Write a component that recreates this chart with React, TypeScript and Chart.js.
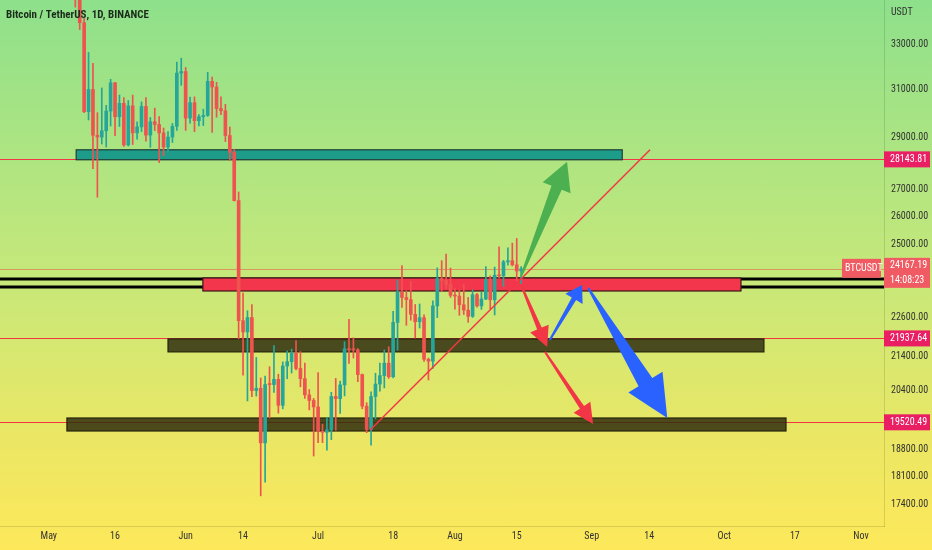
import React, { useEffect, useRef } from 'react';
import Chart from 'chart.js/auto';

// ---------- DATA ----------
const DATES_MAY = ['2022-05-07','2022-05-08','2022-05-09','2022-05-10','2022-05-11','2022-05-12','2022-05-13','2022-05-14','2022-05-15','2022-05-16','2022-05-17','2022-05-18','2022-05-19','2022-05-20','2022-05-21','2022-05-22','2022-05-23','2022-05-24','2022-05-25','2022-05-26','2022-05-27','2022-05-28','2022-05-29','2022-05-30','2022-05-31'];
const DATES_JUN = ['2022-06-01','2022-06-02','2022-06-03','2022-06-04','2022-06-05','2022-06-06','2022-06-07','2022-06-08','2022-06-09','2022-06-10','2022-06-11','2022-06-12','2022-06-13','2022-06-14','2022-06-15','2022-06-16','2022-06-17','2022-06-18','2022-06-19','2022-06-20','2022-06-21','2022-06-22','2022-06-23','2022-06-24','2022-06-25','2022-06-26','2022-06-27','2022-06-28','2022-06-29','2022-06-30'];
const DATES_JUL = ['2022-07-01','2022-07-02','2022-07-03','2022-07-04','2022-07-05','2022-07-06','2022-07-07','2022-07-08','2022-07-09','2022-07-10','2022-07-11','2022-07-12','2022-07-13','2022-07-14','2022-07-15','2022-07-16','2022-07-17','2022-07-18','2022-07-19','2022-07-20','2022-07-21','2022-07-22','2022-07-23','2022-07-24','2022-07-25','2022-07-26','2022-07-27','2022-07-28','2022-07-29','2022-07-30','2022-07-31'];
const DATES_AUG = ['2022-08-01','2022-08-02','2022-08-03','2022-08-04','2022-08-05','2022-08-06','2022-08-07','2022-08-08','2022-08-09','2022-08-10','2022-08-11','2022-08-12','2022-08-13','2022-08-14','2022-08-15','2022-08-16'];

const OPENS = [
  35990, 35468, 34038, 30076, 31017, 29103, 29030, 29287, 30101, 31305, 29862, 30425, 28715, 30319, 29201, 29445, 30293, 29110, 29655, 29542, 29201, 28630, 29031, 29468, 31734,
  31801, 29805, 30452, 29700, 29865, 29919, 31373, 31125, 30205, 30110, 29092, 28424, 26574, 22487, 22136, 22584, 20401, 20468, 18970, 20574, 20573, 20723, 19987, 21110, 21237, 21491, 21038, 20742, 20281, 20124,
  19942, 19279, 19252, 19315, 20236, 20175, 20564, 21624, 21594, 21591, 20862, 19963, 19328, 20234, 20588, 20830, 21195, 20798, 22432, 23396, 23223, 23152, 22684, 22451, 22579, 21310, 21255, 22952, 23843, 23778, 23644,
  23293, 23269, 22988, 22818, 22622, 23313, 22954, 23175, 23810, 23149, 23954, 23934, 24403, 24441, 24305, 24094,
];
const HIGHS = [
  36130, 35510, 34243, 32659, 32162, 30032, 31083, 30343, 31460, 31325, 30780, 30666, 30545, 30777, 29656, 30487, 30670, 29834, 30223, 29872, 29397, 29251, 29587, 32222, 32399,
  31982, 30689, 30699, 29950, 30180, 31765, 31556, 31330, 30700, 30386, 29440, 28544, 26895, 23363, 22800, 22995, 21365, 20763, 20815, 21090, 21723, 20872, 21233, 21558, 21614, 21868, 21540, 21200, 20432, 20179,
  20918, 19467, 19647, 20354, 20750, 20675, 21838, 22527, 21956, 21630, 20878, 20060, 20366, 20900, 21200, 21588, 21684, 22777, 23800, 24276, 23442, 23757, 22998, 23014, 22666, 21347, 23112, 24199, 24442, 24668, 24194,
  23509, 23466, 23647, 23223, 23472, 23354, 23402, 24245, 23933, 24226, 24918, 24456, 24888, 25047, 25211, 24247,
];
const LOWS = [
  34785, 33713, 30033, 29730, 27785, 26700, 28751, 28630, 29480, 29087, 29460, 28654, 28670, 28730, 28947, 29255, 28866, 28620, 29294, 28019, 28282, 28450, 28810, 29300, 31200,
  29299, 29594, 29250, 29485, 29500, 29880, 29219, 29843, 29950, 28850, 28100, 26560, 21925, 20846, 20111, 20232, 20246, 17622, 17961, 19637, 20348, 19770, 19890, 20740, 20906, 21000, 20510, 20183, 19860, 18626,
  18975, 18977, 18781, 19055, 19305, 19761, 20251, 21189, 21348, 20655, 19890, 19240, 18910, 19616, 20385, 20478, 20750, 20762, 21581, 22906, 22341, 22500, 21950, 22257, 21250, 20706, 21042, 22582, 23414, 23502, 23227,
  22850, 22654, 22681, 22435, 22587, 22909, 22841, 23154, 22865, 22664, 23852, 23580, 24291, 24265, 23773, 23671,
];
const CLOSES = [
  35468, 34038, 30076, 31017, 29103, 29030, 29287, 30101, 31305, 29862, 30425, 28715, 30319, 29201, 29445, 30293, 29110, 29655, 29542, 29201, 28630, 29031, 29468, 31734, 31801,
  29805, 30452, 29700, 29865, 29919, 31373, 31125, 30205, 30110, 29092, 28424, 26574, 22487, 22136, 22584, 20401, 20468, 18970, 20574, 20573, 20723, 19987, 21110, 21237, 21491, 21038, 20742, 20281, 20124, 19942,
  19279, 19252, 19315, 20236, 20175, 20564, 21624, 21594, 21591, 20862, 19963, 19328, 20234, 20588, 20830, 21195, 20798, 22432, 23396, 23223, 23152, 22684, 22451, 22579, 21310, 21255, 22952, 23843, 23778, 23644, 23293,
  23269, 22988, 22818, 22622, 23313, 22954, 23175, 23810, 23149, 23954, 23934, 24403, 24441, 24305, 24094, 24167,
];

const X_TICK_DAYS = [0, 15, 31, 44, 61, 78, 92, 106, 123, 136, 153, 169, 184];
const X_TICK_LABELS = ['May', '16', 'Jun', '14', 'Jul', '18', 'Aug', '15', 'Sep', '14', 'Oct', '17', 'Nov'];
const Y_TICKS = [33000, 31000, 29000, 27000, 26000, 25000, 22600, 21400, 20400, 18800, 18100, 17400];

const LEVEL_PRICES = [28143.81, 21937.64, 19520.49];
const CURRENT_PRICE = 24167.19;
const COUNTDOWN = '14:08:23';
const SYMBOL = 'BTCUSDT';
const TITLE = 'Bitcoin / TetherUS, 1D, BINANCE';
const CURRENCY = 'USDT';

// zones: teal, red, olive, olive
const ZONE_FROM_DAY = [6.2, 34.9, 27.0, 4.1];
const ZONE_TO_DAY = [129.9, 156.8, 162.0, 167.0];
const ZONE_LOW = [28128, 23434, 21530, 19286];
const ZONE_HIGH = [28521, 23862, 21922, 19638];

const BLACK_LINE_PRICES = [23828, 23564];

const TREND_DAYS = [72.8, 136.2];
const TREND_PRICES = [19313, 28521];

// arrows: green up, red down 1, red down 2, blue up, blue down
const ARROW_FROM_DAY = [107.0, 107.0, 112.4, 113.5, 122.2];
const ARROW_FROM_PRICE = [23926, 23629, 21530, 21890, 23530];
const ARROW_TO_DAY = [117.4, 112.9, 123.3, 120.8, 140.1];
const ARROW_TO_PRICE = [28050, 21678, 19476, 23629, 19638];

// ---------- STYLES ----------
const UP = '#26a69a';
const DOWN = '#ef5350';
const ZONE_FILL = ['#1e9c8a', '#f4364c', 'rgba(48,46,14,0.85)', 'rgba(48,46,14,0.85)'];
const ZONE_BORDER = ['#1d3d36', '#3a1616', '#26240a', '#26240a'];
const ARROW_COLOR = ['#4caf50', '#f23645', '#f23645', '#2962ff', '#2962ff'];
const ARROW_SHAFT = [11, 5, 5, 5, 16];
const ARROW_HEAD_W = [30, 20, 20, 20, 40];
const ARROW_HEAD_L = [28, 20, 20, 16, 42];
const FONT = "'Liberation Sans Narrow', 'Roboto Condensed', Roboto, sans-serif";

const DAY0 = Date.UTC(2022, 4, 1);
const toDay = (s: string) => {
  const [yy, mm, dd] = s.split('-').map(Number);
  return (Date.UTC(yy, mm - 1, dd) - DAY0) / 86400000;
};

export default function App() {
  const ref = useRef<HTMLCanvasElement | null>(null);

  useEffect(() => {
    if (!ref.current) return;
    const dates = [...DATES_MAY, ...DATES_JUN, ...DATES_JUL, ...DATES_AUG];
    const days = dates.map(toDay);
    const colors = days.map((_, i) => (CLOSES[i] >= OPENS[i] ? UP : DOWN));
    const wicks = days.map((d, i) => ({ x: d, y: [LOWS[i], HIGHS[i]] }));
    const bodies = days.map((d, i) => ({ x: d, y: [OPENS[i], CLOSES[i]] }));

    const overlay = {
      id: 'overlay',
      beforeDatasetsDraw(chart: any) {
        const { ctx, chartArea: a, scales } = chart;
        const x = scales.x, y = scales.y;
        ctx.save();
        ctx.beginPath();
        ctx.rect(a.left, a.top, a.right - a.left, a.bottom - a.top);
        ctx.clip();
        // level lines
        ctx.lineWidth = 1;
        ctx.strokeStyle = '#f23645';
        LEVEL_PRICES.forEach((p) => {
          const py = Math.round(y.getPixelForValue(p)) + 0.5;
          ctx.beginPath(); ctx.moveTo(a.left, py); ctx.lineTo(a.right, py); ctx.stroke();
        });
        // current price line
        ctx.strokeStyle = 'rgba(242,54,69,0.45)';
        const cy = Math.round(y.getPixelForValue(CURRENT_PRICE)) + 0.5;
        ctx.beginPath(); ctx.moveTo(a.left, cy); ctx.lineTo(a.right, cy); ctx.stroke();
        // black lines
        ctx.strokeStyle = '#000';
        ctx.lineWidth = 3;
        BLACK_LINE_PRICES.forEach((p) => {
          const py = y.getPixelForValue(p);
          ctx.beginPath(); ctx.moveTo(a.left, py); ctx.lineTo(a.right, py); ctx.stroke();
        });
        // zones
        ZONE_LOW.forEach((lo, i) => {
          const x1 = x.getPixelForValue(ZONE_FROM_DAY[i]);
          const x2 = x.getPixelForValue(ZONE_TO_DAY[i]);
          const y1 = y.getPixelForValue(ZONE_HIGH[i]);
          const y2 = y.getPixelForValue(lo);
          ctx.fillStyle = ZONE_FILL[i];
          ctx.fillRect(x1, y1, x2 - x1, y2 - y1);
          ctx.strokeStyle = ZONE_BORDER[i];
          ctx.lineWidth = 1.2;
          ctx.strokeRect(x1, y1, x2 - x1, y2 - y1);
        });
        ctx.restore();
      },
      afterDatasetsDraw(chart: any) {
        const { ctx, chartArea: a, scales } = chart;
        const x = scales.x, y = scales.y;
        ctx.save();
        ctx.beginPath();
        ctx.rect(a.left, a.top, a.right - a.left, a.bottom - a.top);
        ctx.clip();
        // trend line
        ctx.strokeStyle = '#f23645';
        ctx.lineWidth = 1.5;
        ctx.beginPath();
        ctx.moveTo(x.getPixelForValue(TREND_DAYS[0]), y.getPixelForValue(TREND_PRICES[0]));
        ctx.lineTo(x.getPixelForValue(TREND_DAYS[1]), y.getPixelForValue(TREND_PRICES[1]));
        ctx.stroke();
        // arrows
        ARROW_FROM_DAY.forEach((fd, i) => {
          const sx = x.getPixelForValue(fd), sy = y.getPixelForValue(ARROW_FROM_PRICE[i]);
          const tx = x.getPixelForValue(ARROW_TO_DAY[i]), ty = y.getPixelForValue(ARROW_TO_PRICE[i]);
          const L = Math.hypot(tx - sx, ty - sy);
          const ux = (tx - sx) / L, uy = (ty - sy) / L;
          const nx = -uy, ny = ux;
          const hl = ARROW_HEAD_L[i], hw = ARROW_HEAD_W[i] / 2, sw = ARROW_SHAFT[i] / 2, w0 = 1;
          const bx = tx - ux * hl, by = ty - uy * hl;
          ctx.fillStyle = ARROW_COLOR[i];
          ctx.beginPath();
          ctx.moveTo(sx + nx * w0, sy + ny * w0);
          ctx.lineTo(bx + nx * sw, by + ny * sw);
          ctx.lineTo(bx + nx * hw, by + ny * hw);
          ctx.lineTo(tx, ty);
          ctx.lineTo(bx - nx * hw, by - ny * hw);
          ctx.lineTo(bx - nx * sw, by - ny * sw);
          ctx.lineTo(sx - nx * w0, sy - ny * w0);
          ctx.closePath();
          ctx.fill();
        });
        ctx.restore();
      },
      afterDraw(chart: any) {
        const { ctx, chartArea: a, scales } = chart;
        const y = scales.y;
        const W = chart.width;
        ctx.save();
        ctx.textBaseline = 'middle';
        ctx.textAlign = 'left';
        // level labels
        ctx.font = `10px ${FONT}`;
        LEVEL_PRICES.forEach((p) => {
          const py = y.getPixelForValue(p);
          ctx.fillStyle = '#e91e63';
          ctx.fillRect(a.right, py - 8, W - a.right - 2, 16);
          ctx.fillStyle = '#fff';
          ctx.fillText(p.toFixed(2), a.right + 6, py + 0.5);
        });
        // current price label
        const cy = y.getPixelForValue(CURRENT_PRICE);
        ctx.fillStyle = '#f05a62';
        ctx.fillRect(a.right, cy - 11, W - a.right - 2, 30);
        ctx.fillStyle = '#fff';
        ctx.fillText(CURRENT_PRICE.toFixed(2), a.right + 6, cy - 3);
        ctx.fillText(COUNTDOWN, a.right + 6, cy + 12);
        // symbol label
        ctx.fillStyle = '#f05a62';
        ctx.fillRect(a.right - 42, cy - 10, 39, 19);
        ctx.fillStyle = '#fff';
        ctx.fillText(SYMBOL, a.right - 39, cy);
        // currency
        ctx.fillStyle = '#333';
        ctx.fillText(CURRENCY, a.right + 7, 12);
        // title
        ctx.font = `bold 11px ${FONT}`;
        ctx.fillStyle = '#1b2b1b';
        ctx.fillText(TITLE, 6, 15);
        ctx.restore();
      },
    };

    const chart = new Chart(ref.current, {
      type: 'bar',
      data: {
        datasets: [
          {
            data: wicks as any,
            backgroundColor: colors,
            barThickness: 1,
            grouped: false,
            order: 2,
          },
          {
            data: bodies as any,
            backgroundColor: colors,
            barThickness: 3,
            minBarLength: 1,
            grouped: false,
            order: 1,
          },
        ],
      },
      options: {
        animation: false,
        responsive: false,
        devicePixelRatio: 1,
        layout: { padding: 0 },
        plugins: { legend: { display: false }, tooltip: { enabled: false }, title: { display: false } },
        scales: {
          x: {
            type: 'linear',
            min: -11.06,
            max: 189.2,
            offset: false,
            grid: { display: false, drawTicks: false },
            border: { display: true, color: 'rgba(0,0,0,0.12)' },
            afterBuildTicks: (s: any) => { s.ticks = X_TICK_DAYS.map((v) => ({ value: v })); },
            afterFit: (s: any) => { s.height = 24; s.paddingLeft = 0; s.paddingRight = 0; },
            ticks: {
              autoSkip: false,
              maxRotation: 0,
              padding: 4,
              color: '#333',
              font: { size: 10, family: FONT },
              callback: (v: any) => { const i = X_TICK_DAYS.indexOf(Number(v)); return i >= 0 ? X_TICK_LABELS[i] : ''; },
            },
          },
          y: {
            type: 'logarithmic',
            position: 'right',
            min: 16898,
            max: 35130,
            grid: { display: false, drawTicks: false },
            border: { display: true, color: 'rgba(0,0,0,0.12)' },
            afterBuildTicks: (s: any) => { s.ticks = Y_TICKS.map((v) => ({ value: v })); },
            afterFit: (s: any) => { s.width = 48; s.paddingTop = 0; s.paddingBottom = 0; },
            ticks: {
              autoSkip: false,
              padding: 7,
              color: '#333',
              font: { size: 10, family: FONT },
              callback: (v: any) => Number(v).toFixed(2),
            },
          },
        },
      } as any,
      plugins: [overlay],
    });
    return () => chart.destroy();
  }, []);

  return (
    <div
      style={{
        position: 'absolute',
        left: 0,
        top: 0,
        width: 932,
        height: 550,
        background: 'linear-gradient(to bottom, #8ee08b 0%, #c6e87a 50%, #ebe764 80%, #fde85a 100%)',
      }}
    >
      <canvas ref={ref} width={932} height={550} style={{ display: 'block' }} />
    </div>
  );
}
